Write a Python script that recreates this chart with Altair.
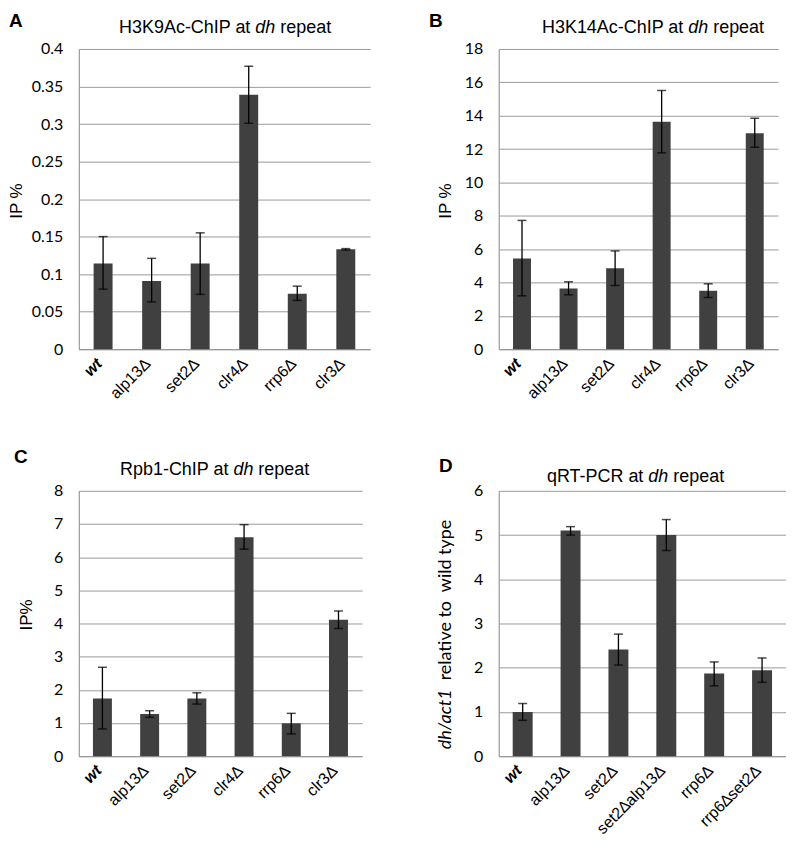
import altair as alt
import pandas as pd

# ---------------- data ----------------
strains = ["wt", "alp13Δ", "set2Δ", "clr4Δ", "rrp6Δ", "clr3Δ"]

a_val = [0.114, 0.091, 0.114, 0.339, 0.074, 0.133]
a_lo = [0.080, 0.063, 0.073, 0.301, 0.065, 0.132]
a_hi = [0.150, 0.121, 0.155, 0.377, 0.084, 0.134]
a_ticks = [0, 0.05, 0.1, 0.15, 0.2, 0.25, 0.3, 0.35, 0.4]

b_val = [5.43, 3.64, 4.85, 13.64, 3.50, 12.95]
b_lo = [3.20, 3.26, 3.82, 11.77, 3.10, 12.11]
b_hi = [7.72, 4.04, 5.89, 15.51, 3.92, 13.84]
b_ticks = [0, 2, 4, 6, 8, 10, 12, 14, 16, 18]

c_val = [1.74, 1.27, 1.74, 6.60, 0.99, 4.11]
c_lo = [0.82, 1.17, 1.57, 6.24, 0.67, 3.85]
c_hi = [2.68, 1.37, 1.91, 6.98, 1.29, 4.38]
c_ticks = [0, 1, 2, 3, 4, 5, 6, 7, 8]

d_strains = ["wt", "alp13Δ", "set2Δ", "set2∆alp13Δ", "rrp6Δ", "rrp6∆set2Δ"]
d_val = [1.00, 5.10, 2.41, 5.00, 1.87, 1.94]
d_lo = [0.81, 5.00, 2.06, 4.65, 1.59, 1.67]
d_hi = [1.19, 5.19, 2.76, 5.35, 2.13, 2.22]
d_ticks = [0, 1, 2, 3, 4, 5, 6]

GRID = "#9a9a9a"
BAR = "#404040"
SANS = "Liberation Sans"
NUM = "Lato"
TFS = 18  # panel title font size


def panel(cats, vals, lo, hi, ymax, yticks, fmt, W, H, barw,
          ytitle, ytitle_x, ytitle_y, title_pre, title_cx, title_y,
          letter, letter_x, letter_y, spacer_y, extra=None):
    df = pd.DataFrame({"cat": cats, "v": vals, "lo": lo, "hi": hi})
    base = alt.Chart(df)
    xenc = alt.X(
        "cat:N", sort=cats,
        scale=alt.Scale(paddingInner=0, paddingOuter=0),
        axis=alt.Axis(
            title=None, labelAngle=-45, labelAlign="right", labelBaseline="alphabetic",
            labelPadding=15, labelFont=SANS, labelFontSize=16, labelColor="black",
            labelFontStyle={"condition": {"test": "datum.value == 'wt'", "value": "italic"}, "value": "normal"},
            labelFontWeight={"condition": {"test": "datum.value == 'wt'", "value": "bold"}, "value": "normal"},
            ticks=False, domainColor=GRID, domainWidth=1.2, labelOverlap=False,
        ),
    )
    yscale = alt.Scale(domain=[0, ymax], nice=False, zero=True)
    common = dict(
        values=yticks, format=fmt, labelFont=NUM, labelFontSize=16,
        labelColor="black", labelPadding=16, ticks=False, domainColor=GRID,
        domainWidth=1.2, gridColor=GRID, gridWidth=1, grid=True,
    )
    if ytitle:
        yaxis = alt.Axis(
            title=ytitle, titleFont=SANS, titleFontSize=17, titleFontWeight="normal",
            titleColor="black", titleAngle=270, titleAlign="center",
            titleBaseline="alphabetic", titleX=ytitle_x, titleY=ytitle_y, **common
        )
    else:
        yaxis = alt.Axis(title=None, **common)

    bars = base.mark_bar(color=BAR, width=barw).encode(
        x=xenc, y=alt.Y("v:Q", scale=yscale, axis=yaxis)
    )
    rule = base.mark_rule(color="black", strokeWidth=1.3).encode(
        x=xenc, y=alt.Y("lo:Q", scale=yscale, axis=yaxis), y2="hi:Q"
    )
    caps = base.transform_fold(["lo", "hi"], as_=["k", "e"]).mark_tick(
        color="black", thickness=1.5, size=9
    ).encode(x=xenc, y=alt.Y("e:Q", scale=yscale, axis=yaxis))

    dhw = 1.112 * TFS
    sp = 0.278 * TFS
    tdf = pd.DataFrame({"t": [title_pre, "dh", "repeat", letter]})
    t1 = alt.Chart(tdf).transform_filter(alt.datum.t == title_pre).mark_text(
        font=SANS, fontSize=TFS, align="right", baseline="alphabetic", color="black"
    ).encode(text="t:N", x=alt.value(title_cx - dhw / 2 - sp), y=alt.value(title_y))
    t2 = alt.Chart(tdf).transform_filter(alt.datum.t == "dh").mark_text(
        font=SANS, fontSize=TFS, fontStyle="italic", align="center", baseline="alphabetic", color="black"
    ).encode(text="t:N", x=alt.value(title_cx), y=alt.value(title_y))
    t3 = alt.Chart(tdf).transform_filter(alt.datum.t == "repeat").mark_text(
        font=SANS, fontSize=TFS, align="left", baseline="alphabetic", color="black"
    ).encode(text="t:N", x=alt.value(title_cx + dhw / 2 + sp), y=alt.value(title_y))
    t4 = alt.Chart(tdf).transform_filter(alt.datum.t == letter).mark_text(
        font=SANS, fontSize=19, fontWeight="bold", align="left", baseline="alphabetic", color="black"
    ).encode(text="t:N", x=alt.value(letter_x), y=alt.value(letter_y))
    # invisible spacer fixing the panel's top extent (keeps plot areas aligned)
    spacer = alt.Chart(tdf).transform_filter(alt.datum.t == letter).mark_rule(
        opacity=0, strokeWidth=1
    ).encode(x=alt.value(0), x2=alt.value(1), y=alt.value(spacer_y), y2=alt.value(spacer_y))

    layers = [bars, rule, caps, t1, t2, t3, t4, spacer]
    if extra:
        layers += extra
    return alt.layer(*layers).properties(width=W, height=H)


A = panel(strains, a_val, a_lo, a_hi, 0.4, a_ticks, ".2~f", 292, 301, 19,
          "IP %", -57, 152, "H3K9Ac-ChIP at", 187, -16, "A", -70, -22, -40)
B = panel(strains, b_val, b_lo, b_hi, 18, b_ticks, "d", 280, 301, 18,
          "IP %", -48, 152, "H3K14Ac-ChIP at", 200, -16, "B", -70, -22, -40)
C = panel(strains, c_val, c_lo, c_hi, 8, c_ticks, "d", 284, 266, 19,
          "IP%", -47, 124, "Rpb1-ChIP at", 165, -16, "C", -65, -28, -44)

# D: y-axis title with mixed styles, drawn as rotated text
D_T1 = "dh/act1"
D_T2 = "relative to\u00a0\u00a0wild type"
ddf = pd.DataFrame({"t": [D_T1, D_T2]})
d_y1 = alt.Chart(ddf).transform_filter(alt.datum.t == D_T1).mark_text(
    font=NUM, fontSize=18, fontStyle="italic", angle=270, align="left",
    baseline="alphabetic", color="black"
).encode(text="t:N", x=alt.value(-48), y=alt.value(259))
d_y2 = alt.Chart(ddf).transform_filter(alt.datum.t == D_T2).mark_text(
    font=NUM, fontSize=18, angle=270, align="left", baseline="alphabetic", color="black"
).encode(text="t:N", x=alt.value(-48), y=alt.value(190))

D = panel(d_strains, d_val, d_lo, d_hi, 6, d_ticks, "d", 288, 266, 20,
          None, 0, 0, "qRT-PCR at", 160, -9, "D", -60, -19, -44, extra=[d_y1, d_y2])

row1 = alt.hconcat(A, B, spacing=59)
row2 = alt.hconcat(C, D, spacing=74)
chart = alt.vconcat(row1, row2, spacing=45).properties(padding=0).configure_view(
    stroke=None
)

chart.save("out.html", embed_options={"renderer": "svg", "actions": False})
